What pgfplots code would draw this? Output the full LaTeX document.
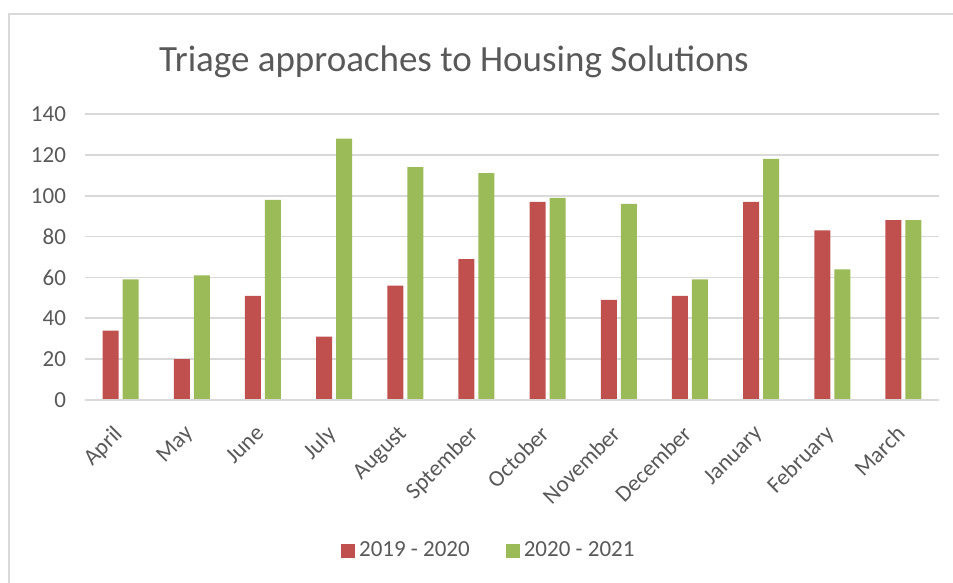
\documentclass[border=0pt]{standalone}
\usepackage{fontspec}
\setmainfont{Carlito}
\usepackage{pgfplots}
\pgfplotsset{compat=1.18}
\definecolor{redbar}{HTML}{C0504D}
\definecolor{greenbar}{HTML}{9BBB59}
\definecolor{txt}{HTML}{595959}
\definecolor{gridc}{HTML}{D9D9D9}
\begin{document}
\begin{tikzpicture}[x=0.5pt,y=0.5pt]
\useasboundingbox (0,0) rectangle (953,583);
\draw[gridc, line width=1pt] (9,-10) -- (9,569) -- (960,569);
\node[txt, font=\fontsize{18.5}{22}\selectfont, anchor=base] at (454,511) {Triage approaches to Housing Solutions};
\begin{axis}[
  at={(42.5pt,91.5pt)}, anchor=south west,
  scale only axis, width=427pt, height=143pt,
  ymin=0, ymax=140, xmin=-0.5, xmax=11.5,
  ytick={0,20,...,140},
  xtick={0,...,11},
  xticklabels={April,May,June,July,August,Sptember,October,November,December,January,February,March},
  ybar=2pt, bar width=8pt,
  axis line style={draw=none},
  x axis line style={draw=none},
  major tick length=0pt,
  ymajorgrids, grid style={gridc, line width=0.8pt},
  tick label style={txt, font=\fontsize{11.5}{14}\selectfont},
  /pgf/number format/assume math mode=true,
  yticklabel style={xshift=-6pt},
  xticklabel style={rotate=45, anchor=north east, xshift=-8pt, yshift=-2pt},
  legend style={at={(0.474,-0.528)}, anchor=center, draw=none, fill=none,
    legend columns=2, font=\fontsize{11.5}{14}\selectfont, text=txt,
    /tikz/every even column/.append style={column sep=16pt}},
  legend image code/.code={\fill[#1] (0pt,-3.5pt) rectangle (7pt,3.5pt);},
]
\addplot[fill=redbar, draw=none] coordinates {(0,34) (1,20) (2,51) (3,31) (4,56) (5,69) (6,97) (7,49) (8,51) (9,97) (10,83) (11,88)};
\addplot[fill=greenbar, draw=none] coordinates {(0,59) (1,61) (2,98) (3,128) (4,114) (5,111) (6,99) (7,96) (8,59) (9,118) (10,64) (11,88)};
\draw[gridc, line width=0.8pt] (axis cs:-0.5,0) -- (axis cs:11.5,0);
\legend{2019 - 2020, 2020 - 2021}
\end{axis}
\end{tikzpicture}
\end{document}
